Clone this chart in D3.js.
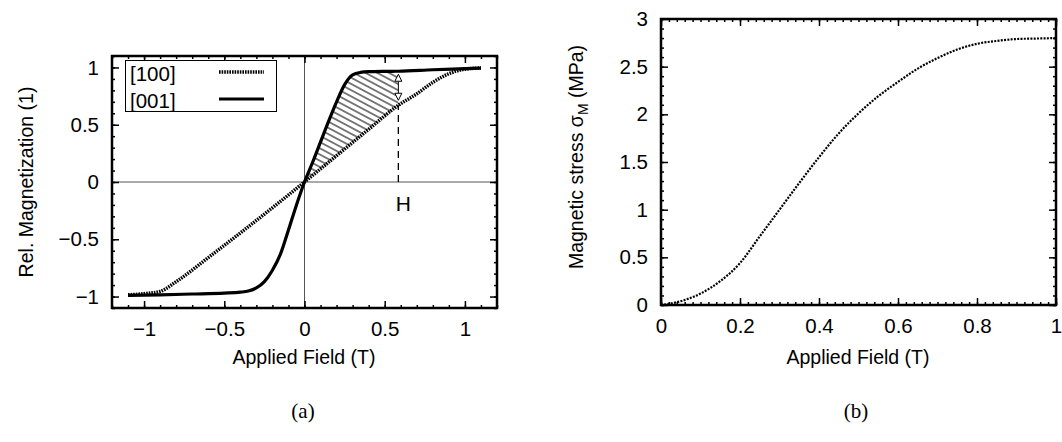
<!DOCTYPE html>
<html>
<head>
<meta charset="utf-8">
<script src="https://cdn.jsdelivr.net/npm/d3@7"></script>
<style>
  body { margin: 0; background: #fff; }
  svg { display: block; }
  text { font-family: "Liberation Sans", Arial, sans-serif; fill: #000; }
  .axis path { display: none; }
  .axis line { stroke: #000; stroke-width: 1.5; }
  .axis text { font-size: 20.5px; font-family: "Liberation Sans", Arial, sans-serif; }
</style>
</head>
<body>
<script>
// (a) relative magnetization vs applied field
const fieldA = [-1.1, -1.0, -0.9, -0.8, -0.6, -0.4, -0.2, 0, 0.2, 0.4, 0.585, 0.7, 0.8, 0.9, 0.95, 1.0, 1.1];
const mag100 = [-0.985, -0.975, -0.955, -0.87, -0.66, -0.445, -0.225, 0, 0.23, 0.46, 0.67, 0.77, 0.87, 0.945, 0.97, 0.985, 0.995];

const fieldB = [-1.1, -0.9, -0.7, -0.5, -0.4, -0.35, -0.3, -0.25, -0.2, -0.15, -0.1, -0.05, 0, 0.05, 0.1, 0.15, 0.2, 0.25, 0.3, 0.35, 0.4, 0.5, 0.585, 0.8, 1.0, 1.1];
const mag001 = [-0.99, -0.985, -0.978, -0.97, -0.962, -0.952, -0.925, -0.87, -0.77, -0.63, -0.42, -0.2, 0, 0.17, 0.35, 0.53, 0.7, 0.85, 0.935, 0.957, 0.963, 0.966, 0.967, 0.98, 0.99, 0.995];

const hField = 0.585;
const xTicksA = [-1, -0.5, 0, 0.5, 1];
const yTicksA = [-1, -0.5, 0, 0.5, 1];
const legendNames = ["[100]", "[001]"];

// (b) magnetic stress vs applied field
const fieldS = [0, 0.05, 0.1, 0.15, 0.2, 0.25, 0.3, 0.35, 0.4, 0.45, 0.5, 0.55, 0.6, 0.65, 0.7, 0.75, 0.8, 0.85, 0.9, 0.95, 1.0];
const stress = [0, 0.04, 0.12, 0.25, 0.44, 0.72, 1.0, 1.28, 1.55, 1.8, 2.01, 2.19, 2.34, 2.48, 2.59, 2.68, 2.74, 2.77, 2.79, 2.795, 2.8];
const xTicksB = [0, 0.2, 0.4, 0.6, 0.8, 1];
const yTicksB = [0, 0.5, 1, 1.5, 2, 2.5, 3];

const fmt = d => (d < 0 ? "\u2212" + Math.abs(d) : "" + d);

const svg = d3.select("body").append("svg")
  .attr("width", 1062)
  .attr("height", 442);

const defs = svg.append("defs");
defs.append("pattern")
  .attr("id", "hatch")
  .attr("patternUnits", "userSpaceOnUse")
  .attr("width", 5.5).attr("height", 5.5)
  .attr("patternTransform", "rotate(28)")
  .append("line")
  .attr("x1", 0).attr("y1", 2.75).attr("x2", 5.5).attr("y2", 2.75)
  .attr("stroke", "#000").attr("stroke-width", 1);

// draw frame with inward ticks on all four sides
function frame(g, x, y, xMajor, yMajor, xMinor, yMinor) {
  const [x0, x1] = x.range();
  const [y0, y1] = y.range();
  const addAxis = (axis, tr, labels) => {
    const a = g.append("g").attr("class", "axis").attr("transform", tr).call(axis);
    if (!labels) a.selectAll("text").remove();
    return a;
  };
  addAxis(d3.axisBottom(x).tickValues(xMinor).tickSize(-3), `translate(0,${y0})`, false);
  addAxis(d3.axisTop(x).tickValues(xMinor).tickSize(-3), `translate(0,${y1})`, false);
  addAxis(d3.axisLeft(y).tickValues(yMinor).tickSize(-3), `translate(${x0},0)`, false);
  addAxis(d3.axisRight(y).tickValues(yMinor).tickSize(-3), `translate(${x1},0)`, false);
  addAxis(d3.axisBottom(x).tickValues(xMajor).tickSize(-7).tickPadding(13).tickFormat(fmt), `translate(0,${y0})`, true);
  addAxis(d3.axisTop(x).tickValues(xMajor).tickSize(-7), `translate(0,${y1})`, false);
  addAxis(d3.axisLeft(y).tickValues(yMajor).tickSize(-7).tickPadding(13).tickFormat(fmt), `translate(${x0},0)`, true);
  addAxis(d3.axisRight(y).tickValues(yMajor).tickSize(-7), `translate(${x1},0)`, false);
  g.append("rect")
    .attr("x", x0).attr("y", y1)
    .attr("width", x1 - x0).attr("height", y0 - y1)
    .attr("fill", "none").attr("stroke", "#000").attr("stroke-width", 2.5);
}

// ---------- panel (a)
const xA = d3.scaleLinear().domain([-1.2, 1.2]).range([112, 497]);
const yA = d3.scaleLinear().domain([-1.1, 1.1]).range([308, 56]);
const gA = svg.append("g");

// zero axes
gA.append("line").attr("x1", xA(-1.2)).attr("x2", xA(1.2)).attr("y1", yA(0)).attr("y2", yA(0))
  .attr("stroke", "#555").attr("stroke-width", 1);
gA.append("line").attr("x1", xA(0)).attr("x2", xA(0)).attr("y1", yA(-1.1)).attr("y2", yA(1.1))
  .attr("stroke", "#555").attr("stroke-width", 1);

const s100 = fieldA.map((f, i) => [f, mag100[i]]);
const s001 = fieldB.map((f, i) => [f, mag001[i]]);

const lineA = d3.line().x(d => xA(d[0])).y(d => yA(d[1])).curve(d3.curveMonotoneX);
const lineLin = d3.line().x(d => xA(d[0])).y(d => yA(d[1]));

// hatched energy area between the two curves from 0 to H
const upper = s001.filter(d => d[0] >= 0 && d[0] <= hField);
const lower = s100.filter(d => d[0] >= 0 && d[0] <= hField).reverse();
gA.append("path")
  .attr("d", lineA(upper) + lineLin(lower).replace("M", "L") + "Z")
  .attr("fill", "url(#hatch)")
  .attr("stroke", "none");

// dashed line from 0 to [100] at H
const hLow = mag100[fieldA.indexOf(hField)];
const hUp = mag001[fieldB.indexOf(hField)];
gA.append("line")
  .attr("x1", xA(hField)).attr("x2", xA(hField))
  .attr("y1", yA(0)).attr("y2", yA(hLow))
  .attr("stroke", "#000").attr("stroke-width", 1.3).attr("stroke-dasharray", "7,5");

frame(gA, xA, yA, xTicksA, yTicksA, d3.range(-12, 13).map(i => i / 10), d3.range(-11, 12).map(i => i / 10));

gA.append("path").datum(s100)
  .attr("d", lineA)
  .attr("fill", "none").attr("stroke", "#000").attr("stroke-width", 3.5)
  .attr("stroke-dasharray", "1.6,1");
gA.append("path").datum(s001)
  .attr("d", lineA)
  .attr("fill", "none").attr("stroke", "#000").attr("stroke-width", 3.2)
  .attr("stroke-linejoin", "round");

// double arrow between curves at H
const ax = xA(hField);
const yTop = yA(hUp) + 3, yBot = yA(hLow) - 5;
gA.append("line").attr("x1", ax).attr("x2", ax).attr("y1", yTop + 7).attr("y2", yBot - 7)
  .attr("stroke", "#000").attr("stroke-width", 1);
gA.append("path")
  .attr("d", `M${ax},${yTop} L${ax - 3.5},${yTop + 7} L${ax + 3.5},${yTop + 7} Z`)
  .attr("fill", "#fff").attr("stroke", "#000").attr("stroke-width", 1);
gA.append("path")
  .attr("d", `M${ax},${yBot} L${ax - 3.5},${yBot - 7} L${ax + 3.5},${yBot - 7} Z`)
  .attr("fill", "#fff").attr("stroke", "#000").attr("stroke-width", 1);

gA.append("text").attr("x", ax + 5).attr("y", 211)
  .attr("text-anchor", "middle").attr("font-size", 21).text("H");

// legend
const leg = gA.append("g");
leg.append("rect").attr("x", 125.5).attr("y", 60.5).attr("width", 151).attr("height", 51)
  .attr("fill", "#fff").attr("stroke", "#000").attr("stroke-width", 1);
legendNames.forEach((name, i) => {
  const yy = 72 + i * 27;
  leg.append("text").attr("x", 130).attr("y", yy + 9).attr("font-size", 20.5).text(name);
  const l = leg.append("line").attr("x1", 219).attr("x2", 264).attr("y1", yy).attr("y2", yy)
    .attr("stroke", "#000");
  if (i === 0) l.attr("stroke-width", 3.5).attr("stroke-dasharray", "1.6,1");
  else l.attr("stroke-width", 3.2);
});

gA.append("text")
  .attr("transform", "translate(33,182) rotate(-90)")
  .attr("text-anchor", "middle").attr("font-size", 19.5)
  .text("Rel. Magnetization (1)");
gA.append("text").attr("x", 304).attr("y", 364)
  .attr("text-anchor", "middle").attr("font-size", 19.5)
  .text("Applied Field (T)");
gA.append("text").attr("x", 303).attr("y", 418)
  .attr("text-anchor", "middle").attr("font-size", 21)
  .style("font-family", "'Liberation Serif', 'Times New Roman', serif")
  .text("(a)");

// ---------- panel (b)
const xB = d3.scaleLinear().domain([0, 1]).range([661, 1056]);
const yB = d3.scaleLinear().domain([0, 3]).range([305, 19]);
const gB = svg.append("g");

frame(gB, xB, yB, xTicksB, yTicksB, d3.range(0, 51).map(i => i / 50), d3.range(0, 31).map(i => i / 10));

gB.append("path")
  .datum(fieldS.map((f, i) => [f, stress[i]]))
  .attr("d", d3.line().x(d => xB(d[0])).y(d => yB(d[1])).curve(d3.curveMonotoneX))
  .attr("fill", "none").attr("stroke", "#000").attr("stroke-width", 2.2)
  .attr("stroke-dasharray", "2,1.3");

const yl = gB.append("text")
  .attr("transform", "translate(583,157) rotate(-90)")
  .attr("text-anchor", "middle").attr("font-size", 19.5);
yl.append("tspan").text("Magnetic stress \u03c3");
yl.append("tspan").attr("font-size", 14).attr("dy", 5).text("M");
yl.append("tspan").attr("dy", -5).text(" (MPa)");

gB.append("text").attr("x", 858).attr("y", 364)
  .attr("text-anchor", "middle").attr("font-size", 19.5)
  .text("Applied Field (T)");
gB.append("text").attr("x", 856).attr("y", 418)
  .attr("text-anchor", "middle").attr("font-size", 21)
  .style("font-family", "'Liberation Serif', 'Times New Roman', serif")
  .text("(b)");
</script>
</body>
</html>
